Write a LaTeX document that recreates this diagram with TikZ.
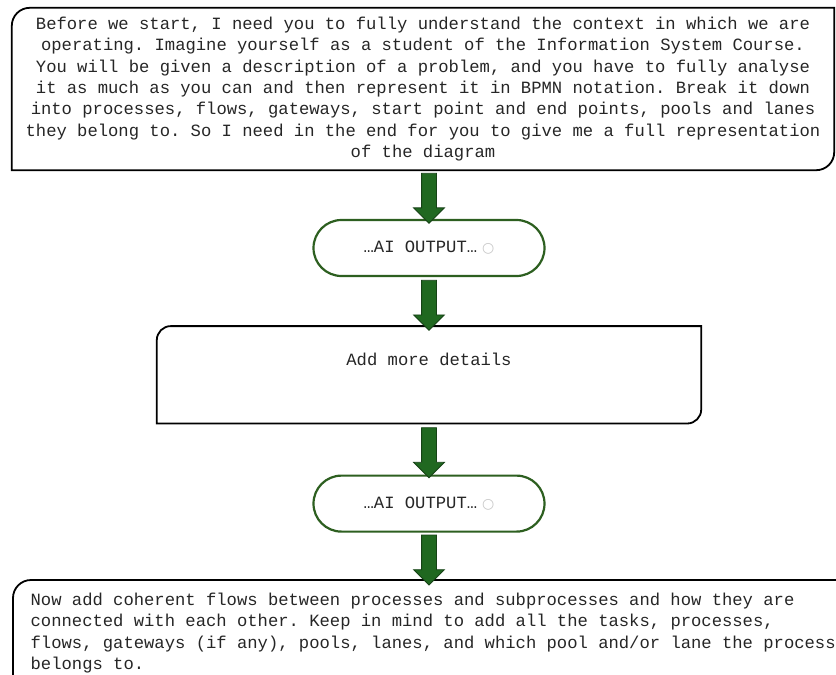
\documentclass[tikz,border=0pt]{standalone}
\usepackage{fontspec}
\setmonofont{Liberation Mono}
\newfontfamily\iconfont{DejaVu Sans}
\usepackage{tikz}
\usetikzlibrary{shapes.arrows, positioning}
\definecolor{FlowGreen}{RGB}{32, 104, 32}
\definecolor{FlowDark}{RGB}{22, 66, 22}
\definecolor{OvalGreen}{RGB}{45, 95, 32}

\begin{document}
\begin{tikzpicture}[
    x=1pt, y=-1pt,
    txt/.style={font=\ttfamily\fontsize{17.2}{21.3}\selectfont, text=black!85},
    promptbox/.style={txt, rectangle, draw=none, inner sep=0pt, align=center},
    outputbox/.style={txt, rectangle, rounded corners=28pt, draw=OvalGreen, line width=2.2pt,
                      fill=white, minimum width=231pt, minimum height=56pt},
    boxline/.style={draw=black, line width=1.8pt},
    flowarrow/.style={single arrow, draw=FlowDark, fill=FlowGreen, line width=0.8pt,
                      inner sep=7pt, single arrow head extend=8pt,
                      shape border rotate=270, minimum height=50pt}
]
\clip[use as bounding box] (0,0) rectangle (836,675);

% Prompts and outputs
\node[promptbox, minimum width=822pt, minimum height=162pt] (prompt) at (423,89)
  {Before we start, I need you to fully understand the context in which we are\\
   operating. Imagine yourself as a student of the Information System Course.\\
   You will be given a description of a problem, and you have to fully analyse\\
   it as much as you can and then represent it in BPMN notation. Break it down\\
   into processes, flows, gateways, start point and end points, pools and lanes\\
   they belong to. So I need in the end for you to give me a full representation\\
   of the diagram};
\node[outputbox] (out1) at (429,248) {…AI OUTPUT…\hspace{5pt}{\iconfont\fontsize{14}{14}\selectfont\color{black!22}○}};
\node[promptbox, below=49pt of out1, minimum width=544pt, minimum height=97pt,
      text height=12pt, text depth=30pt] (details) {Add more details};
\node[outputbox, below=51pt of details] (out2) {…AI OUTPUT…\hspace{5pt}{\iconfont\fontsize{14}{14}\selectfont\color{black!22}○}};
\node[promptbox, anchor=north west, align=left, inner xsep=9pt, inner ysep=13pt,
      minimum width=840pt, text depth=40pt] (flows) at (13,580)
  {Now add coherent flows between processes and subprocesses and how they are\\
   connected with each other. Keep in mind to add all the tasks, processes,\\
   flows, gateways (if any), pools, lanes, and which pool and/or lane the process\\
   belongs to.};

% Box outlines
\foreach \b/\r in {prompt/18, details/14, flows/18}
  \draw[boxline] (\b.south west) -- ([yshift=-\r pt]\b.north west)
    arc[start angle=180, end angle=90, radius=\r pt] -- (\b.north east)
    -- ([yshift=\r pt]\b.south east) arc[start angle=0, end angle=-90, radius=\r pt] -- cycle;

% Arrows
\path (prompt.south -| out1) -- (out1.north) node[flowarrow, midway] {};
\path (out1.south) -- (details.north -| out1) node[flowarrow, midway] {};
\path (details.south -| out2) -- (out2.north) node[flowarrow, midway] {};
\path (out2.south) -- (flows.north -| out2) node[flowarrow, midway] {};

\end{tikzpicture}
\end{document}
